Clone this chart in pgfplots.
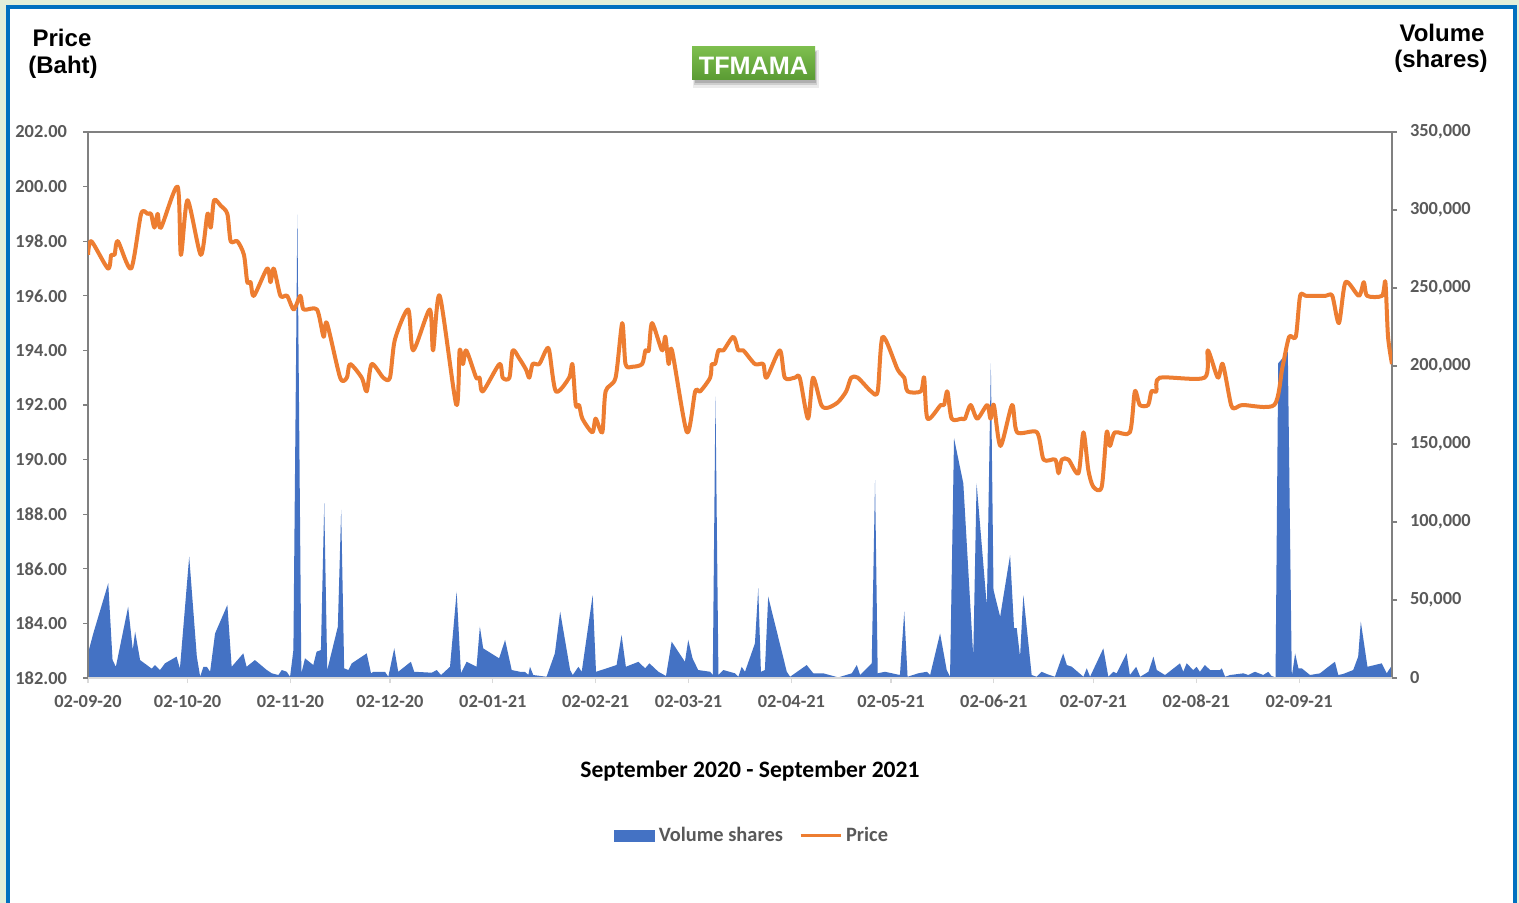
\documentclass[border=0pt]{standalone}
\usepackage{pgfplots}
\pgfplotsset{compat=1.18}
\usepackage{fontspec}
\setmainfont{Carlito}
\newfontfamily\arialfont{Liberation Sans}
\definecolor{volblue}{HTML}{4472C4}
\definecolor{priceorange}{HTML}{ED7D31}
\definecolor{frameblue}{HTML}{0070C0}
\definecolor{bggreen}{HTML}{E2EFDA}
\definecolor{ticklabel}{HTML}{595959}
\definecolor{axisgray}{HTML}{808080}
\definecolor{bottomgray}{HTML}{D9D9D9}
\definecolor{boxtop}{HTML}{7DBE4E}
\definecolor{boxbot}{HTML}{5A9B33}

\pgfplotstableread{
day vol
0 15800
1.6 28600
6.1 60700
7.4 11500
8.4 7200
12.1 45700
13.5 17900
14.2 29700
15.7 11500
19.2 6000
20.2 8300
21.7 5100
23.2 9400
26.7 13700
27.7 6000
30.5 77800
32.8 13700
33.8 900
34.8 7200
35.8 7200
36.8 4000
38.3 28600
42 46800
43.3 7200
46.8 15800
47.8 7200
50.3 11500
53.9 5100
55.4 3000
57.4 1900
58.4 5100
59.9 4000
60.9 800
61.9 17900
63.1 297000
64.3 3000
65.4 12600
67.9 8300
68.9 16900
70.2 17900
71.2 112000
72.1 5100
75.3 32900
76.3 107700
77.2 6200
78.5 5100
79.5 9400
84 15800
85.3 3000
86 4000
89.5 4000
90.5 800
92.3 19000
93.5 4000
97.3 10400
98.3 4000
103.6 3400
105.1 5100
106.4 1900
109.1 7200
111.1 55300
112.4 3000
114.1 10400
117.1 7200
118.1 32900
119.1 19000
123.9 12600
125.7 24400
127.7 5100
130.2 4000
131.7 4000
132.7 1900
133.2 7200
134.2 1900
138.2 800
140.7 15800
142.3 42500
145.3 5100
146.1 1900
147.8 7200
148.8 4000
152.1 53200
153.1 4000
156.3 6200
159.3 8300
160.8 27600
162.1 7200
165.9 10400
167.9 6200
169.2 9400
171.9 4000
174.2 1300
175.9 23300
179.9 10400
180.9 24400
182.2 12600
183.9 5100
187.5 4000
188.3 1900
189.1 180300
190 1900
191.5 5100
195 3000
196 800
197 7200
198 4000
201 22200
202 57500
202.8 4000
204 5100
205 52100
210.6 4000
211.6 800
216.6 8300
218.6 3000
221.6 3000
226.1 400
230.2 3000
231.7 8300
232.7 1900
236.2 9400
237.2 126900
238 3000
240.2 4000
244.7 1900
246 42500
247 800
250.2 3000
252.8 4000
253.8 1900
256.8 28600
258.8 5100
259.8 800
261 153700
263.8 124800
266.8 13700
267.8 124800
270.9 45700
272.1 201700
272.9 56400
274.9 39300
277.9 78800
279.1 31900
279.9 31900
280.9 13700
281.9 53200
284.4 1900
285.9 800
287.4 4000
288.9 2600
291.4 800
293.9 15800
295 8300
296.5 7200
300 800
301 6200
302 800
306 19000
307.5 800
309 4000
310 3000
313 15800
314 1900
315.9 7200
317.1 800
319.6 4000
321.1 13700
322.1 5100
324.6 1900
329.1 9400
330.1 4000
331.1 9400
333.1 5100
334.1 7200
335.1 4000
336.6 8300
338.2 5100
341.2 5100
341.7 6200
342.7 800
344.2 1900
348.2 3000
349.7 1900
351.7 4000
354.2 1900
355.7 4000
356.7 1300
357.9 400
358.7 201700
361.6 209200
362.8 800
363.8 15800
364.8 6200
365.8 6200
368.3 1900
371.3 3000
373.8 7200
375.8 10400
376.8 1900
378.3 2600
381.3 5100
382.8 13700
383.6 36100
385.6 7200
389.9 9400
391.4 3000
392.7 7200
}\voltable

\pgfplotstableread{
day price
0 197.5
1 198
6 197
7 197.5
8 197.5
9 198
13 197
16 199
18 199
19 199
20 198.5
21 199
22 198.5
27 200
28 197.5
30 199.5
34 197.5
36 199
37 198.5
38 199.5
40 199.3
42 199
43 198
45 198
47 197.5
48 196.5
49 196.5
50 196
54 197
55 196.5
56 197
58 196
60 196
62 195.5
64 196
65 195.5
69 195.5
71 194.5
72 195
76 193
78 193
79 193.5
82.5 193
84 192.5
85.5 193.5
89 193
91 193
92.5 194.4
96.5 195.5
98 194
103 195.5
104 194
106 196
111 192
112 194
113 193.5
114 194
117 193
118 193
119 192.5
124 193.5
125 193
127 193
128 194
130 193.7
132 193.3
133 193
134 193.5
136 193.5
138 194
139 194
141 192.5
145 193
146 193.5
147 192
148 192
149 191.5
152 191
153 191.5
155 191
156 192.5
159 193
161 195
162 193.5
164 193.4
167 193.5
168 194
169 194
170 195
173 194
174 194.5
175 193.5
176 194
180.5 191
183 192.5
184.5 192.5
187.5 193
188 193.5
189 193.5
190 194
191.5 194
194.5 194.5
196 194
197.5 194
201 193.5
203.5 193.5
204.5 193
208.5 194
210 193
213 193
214.5 193
217 191.5
218.5 193
221 192
223 191.9
226 192.1
228.5 192.5
230 193
232 193
236 192.5
238 192.5
239.5 194.5
244 193.3
246 193
247 192.5
251 192.5
252 193
253 191.5
257 192
258 192
259 192.5
260.3 191.5
263.3 191.5
264.3 191.5
266 192
268 191.5
271 192
272 191.5
273 192
275 190.5
278.5 192
280 191
286 191
288 190
291.5 190
292.5 189.5
293.5 190
295.5 190
298.5 189.5
300 191
301.5 189.6
303 189
305.5 189
307 191
308 190.5
309.5 191
314 191
315.5 192.5
317 192
319.5 192
320.5 192.5
322 192.5
323 193
336.5 193
337.5 194
340.5 193
342 193.5
344.5 192
346 191.9
348 192
357.5 192
360 193.4
362 194.5
364 194.5
365.3 196
367 196
373 196
375 196
377 195
379 196.5
383 196
384.5 196.5
385.5 196
390 196
391 196.5
391.8 194.5
393 193.5
}\pricetable

\pgfplotsset{
  myaxis/.style={
    scale only axis, width=652pt, height=273pt,
    at={(44pt,-339pt)}, anchor=south west,
    xmin=0, xmax=393,
    tick align=outside, major tick length=2.5pt,
    /pgf/number format/assume math mode=true,
    tick label style={font=\bfseries\fontsize{9.2}{11}\selectfont, text=ticklabel},
  }
}

\begin{document}
\begin{tikzpicture}
\begin{scope}[x=0.5pt,y=-0.5pt]
\useasboundingbox (0,0) rectangle (1519,903);
\fill[bggreen] (0,0) rectangle (1519,903);
\begin{scope}
\clip (0,0) rectangle (1519,903);
\draw[frameblue, line width=2pt, fill=white] (8,7) rectangle (1515,940);
\end{scope}
\end{scope}

% Volume axis (right)
\begin{axis}[myaxis,
  ymin=0, ymax=350000,
  axis x line=none,
  axis y line*=right,
  y axis line style={draw=axisgray, line width=0.6pt, -},
  ytick={0,50000,...,350000},
  ytick style={draw=axisgray, line width=0.6pt},
  scaled y ticks=false,
  yticklabel style={/pgf/number format/fixed, /pgf/number format/1000 sep={,}, xshift=3pt},
]
\addplot[fill=volblue, draw=none] table[x=day, y=vol] {\voltable} \closedcycle;
\end{axis}

% Price axis (left)
\begin{axis}[myaxis,
  ymin=182, ymax=202,
  ytick={182,184,...,202},
  axis line style={draw=axisgray, line width=0.6pt},
  xtick pos=bottom, ytick pos=left,
  xtick={0,30,61,91,122,153,181,212,242,273,303,334,365},
  xticklabels={02-09-20,02-10-20,02-11-20,02-12-20,02-01-21,02-02-21,02-03-21,02-04-21,02-05-21,02-06-21,02-07-21,02-08-21,02-09-21},
  xticklabel style={yshift=-2.5pt},
  xtick style={draw=bottomgray, line width=0.6pt},
  ytick style={draw=axisgray, line width=0.6pt},
  yticklabel style={/pgf/number format/fixed, /pgf/number format/fixed zerofill, /pgf/number format/precision=2, xshift=-4.5pt},
  legend style={at={(0.51,-0.289)}, anchor=center, draw=none, fill=none,
    legend columns=2, font=\bfseries\fontsize{10.2}{12}\selectfont, text=ticklabel,
    /tikz/every even column/.style={column sep=6pt},
    nodes={inner xsep=2pt}},
]
\addlegendimage{legend image code/.code={\fill[volblue] (0pt,-2.6pt) rectangle (20pt,2.6pt);}}
\addlegendentry{Volume shares}
\addplot[priceorange, line width=2pt, smooth, tension=0.45, line join=round,
  legend image code/.code={\draw[priceorange, line width=1.6pt] (0pt,0pt) -- (20pt,0pt);}]
  table[x=day, y=price] {\pricetable};
\addlegendentry{Price}
\draw[bottomgray, line width=0.8pt] (rel axis cs:0,0) -- (rel axis cs:1,0);
\end{axis}

\begin{scope}[x=0.5pt,y=-0.5pt]
\node[font=\arialfont\bfseries\fontsize{12}{14}\selectfont] at (62,38) {Price};
\node[font=\arialfont\bfseries\fontsize{12}{14}\selectfont] at (63,67) {(Baht)};
\node[font=\arialfont\bfseries\fontsize{12}{14}\selectfont] at (1442,33) {Volume};
\node[font=\arialfont\bfseries\fontsize{12}{14}\selectfont] at (1441,61) {(shares)};
\fill[black, opacity=0.08] (693,50) rectangle (819,88);
\fill[black, opacity=0.12] (694,51) rectangle (817,85);
\fill[black, opacity=0.15] (695,52) rectangle (816,83);
\shade[top color=boxtop, bottom color=boxbot] (692,47) rectangle (815,80);
\node[font=\arialfont\bfseries\fontsize{12.6}{14}\selectfont, text=white] at (753.5,66) {TFMAMA};
\node[font=\bfseries\fontsize{11.8}{14}\selectfont] at (750,771) {September 2020 - September 2021};
\end{scope}
\end{tikzpicture}
\end{document}
